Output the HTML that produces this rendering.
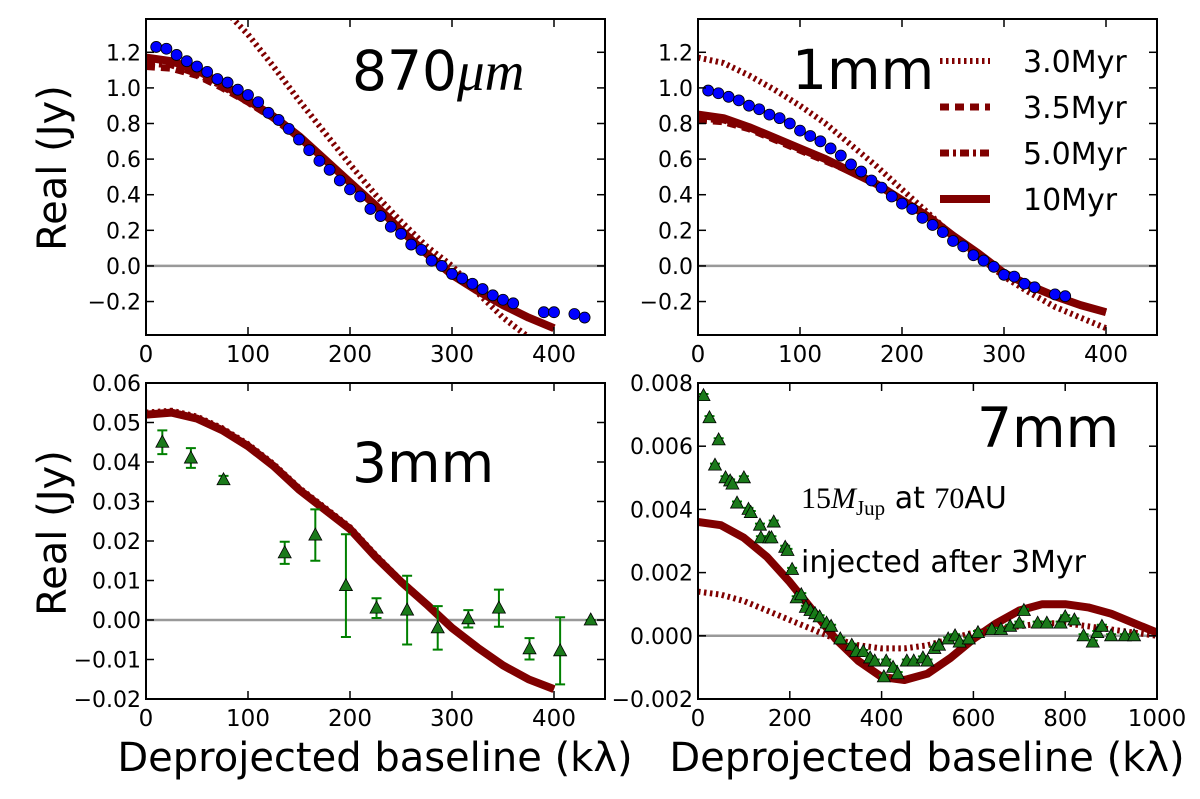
<!DOCTYPE html>
<html><head><meta charset="utf-8"><style>
html,body{margin:0;padding:0;background:#fff;}
svg{display:block;font-family:"DejaVu Sans","Liberation Sans",sans-serif;}
</style></head><body>
<svg id="fig" width="1200" height="799" viewBox="0 0 1200 799" xmlns="http://www.w3.org/2000/svg"></svg>
<script>
// ---------- data ----------
const modelX = [0,25,50,75,100,125,150,175,200,225,250,275,300,325,350,375,400];
// 870um panel
const a_m30 = [1.75,1.70,1.60,1.45,1.30,1.12,0.93,0.75,0.57,0.40,0.25,0.11,0.0,-0.15,-0.29,-0.40,-0.48];
const a_m35 = [1.12,1.11,1.07,1.00,0.92,0.83,0.72,0.60,0.47,0.34,0.20,0.07,-0.05,-0.14,-0.22,-0.29,-0.35];
const a_m50 = [1.14,1.13,1.08,1.01,0.92,0.83,0.72,0.60,0.47,0.34,0.20,0.07,-0.05,-0.14,-0.22,-0.29,-0.35];
const a_m10 = [1.17,1.15,1.10,1.02,0.93,0.84,0.73,0.60,0.47,0.34,0.20,0.07,-0.05,-0.14,-0.22,-0.29,-0.35];
const a_obsX = [10,20,30,40,50,60,70,80,90,100,110,120,130,140,150,160,170,180,190,200,210,220,230,240,250,260,270,280,290,300,310,320,330,340,350,360,390,400,420,430];
const a_obsY = [1.23,1.22,1.185,1.15,1.12,1.09,1.05,1.03,0.99,0.96,0.92,0.86,0.82,0.77,0.71,0.65,0.59,0.54,0.48,0.43,0.39,0.32,0.28,0.22,0.18,0.12,0.09,0.03,0.0,-0.045,-0.07,-0.10,-0.13,-0.165,-0.19,-0.21,-0.26,-0.26,-0.27,-0.29];
// 1mm panel
const b_m30 = [1.17,1.14,1.07,0.99,0.90,0.80,0.68,0.56,0.43,0.30,0.17,0.05,-0.06,-0.15,-0.23,-0.29,-0.35];
const b_m35 = [0.82,0.81,0.77,0.71,0.65,0.59,0.53,0.46,0.37,0.28,0.17,0.07,-0.04,-0.11,-0.17,-0.22,-0.26];
const b_m50 = [0.83,0.82,0.78,0.72,0.66,0.60,0.53,0.46,0.37,0.28,0.17,0.07,-0.04,-0.11,-0.17,-0.22,-0.26];
const b_m10 = [0.85,0.83,0.78,0.72,0.66,0.60,0.53,0.46,0.37,0.28,0.17,0.07,-0.04,-0.11,-0.17,-0.22,-0.26];
const b_obsX = [10,20,30,40,50,60,70,80,90,100,110,120,130,140,150,160,170,180,190,200,210,220,230,240,250,260,270,280,290,300,310,320,330,350,360];
const b_obsY = [0.985,0.97,0.95,0.93,0.90,0.88,0.85,0.83,0.80,0.76,0.73,0.70,0.66,0.62,0.57,0.53,0.48,0.44,0.39,0.35,0.32,0.27,0.23,0.19,0.14,0.11,0.06,0.03,-0.005,-0.05,-0.06,-0.10,-0.12,-0.16,-0.17];
// 3mm panel
const c_m30 = [0.0525,0.053,0.0515,0.0485,0.0445,0.0395,0.0335,0.0285,0.0235,0.0165,0.0100,0.0042,-0.0018,-0.0068,-0.0113,-0.0148,-0.0175];
const c_m10 = [0.052,0.0525,0.051,0.048,0.044,0.039,0.033,0.028,0.023,0.016,0.0097,0.004,-0.002,-0.007,-0.0115,-0.015,-0.0175];
const c_obsX = [16,44,76,136,166,196,226,256,286,316,346,376,406,436];
const c_obsY = [0.045,0.041,0.0355,0.017,0.0215,0.0087,0.003,0.0025,-0.002,0.0003,0.003,-0.0073,-0.0078,0.0];
const c_obsE = [0.003,0.0025,0.001,0.0028,0.0065,0.013,0.0025,0.0087,0.0055,0.0022,0.0047,0.0027,0.0085,0.0];
// 7mm panel
const d_modelX = [0,50,100,150,200,250,300,350,400,450,500,550,600,650,700,750,800,850,900,950,1000];
const d_m10 = [0.0036,0.0035,0.0031,0.0025,0.0017,0.0008,-0.0001,-0.0008,-0.0013,-0.0014,-0.0012,-0.0007,-0.0001,0.0004,0.0008,0.0010,0.0010,0.0009,0.0007,0.0004,0.0001];
const d_m30 = [0.0014,0.0013,0.0011,0.0008,0.0005,0.0002,-0.0001,-0.0003,-0.0004,-0.0004,-0.0003,-0.0001,0.0001,0.0002,0.0003,0.0004,0.0004,0.0003,0.0002,0.0001,0.0];
const d_obsX = [12,25,45,37,60,70,75,100,85,110,115,135,137,155,165,160,190,195,205,215,225,235,245,255,265,280,290,310,335,345,360,375,385,405,410,425,435,455,470,490,500,515,525,545,560,570,590,610,640,660,680,700,710,740,760,790,800,820,840,860,870,880,900,930,950];
const d_obsY = [0.0076,0.0069,0.0062,0.0054,0.005,0.0049,0.0048,0.005,0.0042,0.004,0.0039,0.0035,0.0031,0.0031,0.0036,0.0031,0.0028,0.0027,0.0021,0.0012,0.0013,0.0009,0.0008,0.0007,0.0006,0.0004,0.0003,-0.0001,-0.0003,-0.0005,-0.0005,-0.0007,-0.0008,-0.0013,-0.0008,-0.001,-0.0012,-0.0008,-0.0008,-0.0007,-0.0008,-0.0004,-0.0003,-0.0001,0.0,-0.0002,-0.0001,0.0001,0.0002,0.0002,0.0003,0.0004,0.0008,0.0004,0.0004,0.0004,0.0006,0.0005,0.0,-0.0002,0.0001,0.0003,0.0,0.0,0.0];

const xTicksA = [0,100,200,300,400];
const yTicksTop = [-0.2,0.0,0.2,0.4,0.6,0.8,1.0,1.2];
const yLabelsTop = ["\u22120.2","0.0","0.2","0.4","0.6","0.8","1.0","1.2"];
const yTicks3 = [-0.02,-0.01,0,0.01,0.02,0.03,0.04,0.05,0.06];
const yLabels3 = ["\u22120.02","\u22120.01","0.00","0.01","0.02","0.03","0.04","0.05","0.06"];
const xTicksD = [0,200,400,600,800,1000];
const yTicks7 = [-0.002,0,0.002,0.004,0.006,0.008];
const yLabels7 = ["\u22120.002","0.000","0.002","0.004","0.006","0.008"];

// ---------- rendering ----------
const NS = "http://www.w3.org/2000/svg";
const svg = document.getElementById('fig');
const RED = "#800000";
function mk(tag, attrs, parent){
  const e = document.createElementNS(NS, tag);
  for (const k in attrs) e.setAttribute(k, attrs[k]);
  (parent||svg).appendChild(e);
  return e;
}
function panel(name, L, R, T, B, x0, x1, y0, y1){
  const g = mk('g', {});
  
  
  const cp = mk('clipPath', {id: 'clip-' + name}, g);
  mk('rect', {x: L, y: T, width: R - L, height: B - T}, cp);
  const inner = mk('g', {'clip-path': 'url(#clip-' + name + ')'}, g);
  return {g, inner, L, R, T, B,
    sx: v => L + (v - x0) / (x1 - x0) * (R - L),
    sy: v => B - (v - y0) / (y1 - y0) * (B - T)};
}
function zero(p){
  const l = mk('line', {x1: p.L, x2: p.R, y1: p.sy(0), y2: p.sy(0), stroke: '#999', 'stroke-width': 2.5}, p.inner);
  
  
}
function curve(p, xs, ys, name, style){
  const d = xs.map((x, i) => (i ? 'L' : 'M') + p.sx(x).toFixed(1) + ',' + p.sy(ys[i]).toFixed(1)).join('');
  const attrs = {d: d, fill: 'none', stroke: RED, 'stroke-width': style.w, 'stroke-linejoin': 'round'};
  if (style.dash) attrs['stroke-dasharray'] = style.dash;
  const e = mk('path', attrs, p.inner);
  
  
}
function dots(p, xs, ys, name){
  const g = mk('g', {}, p.inner);
  
  
  xs.forEach((x, i) => {
    const c = mk('circle', {cx: p.sx(x), cy: p.sy(ys[i]), r: 5.5, fill: '#0000ff', stroke: '#000', 'stroke-width': 0.8}, g);
    
    
  });
}
function tris(p, xs, ys, es, name){
  const g = mk('g', {}, p.inner);
  
  
  xs.forEach((x, i) => {
    const cx = p.sx(x), cy = p.sy(ys[i]);
    const e = es ? es[i] : 0.00005;
    const y1 = p.sy(ys[i] + e), y2 = p.sy(ys[i] - e);
    const eb = mk('path', {d: `M${cx},${y1}L${cx},${y2}M${cx-5},${y1}L${cx+5},${y1}M${cx-5},${y2}L${cx+5},${y2}`, stroke: '#008000', 'stroke-width': 2, fill: 'none'}, g);
    
    
    const t = mk('path', {d: `M${cx},${cy-7}L${cx+6.5},${cy+5}L${cx-6.5},${cy+5}Z`, fill: '#1a7a1a', stroke: '#000', 'stroke-width': 0.8}, g);
    
    
  });
}
function axes(p, xt, xl, yt, yl, showXLabels){
  const f = mk('rect', {x: p.L, y: p.T, width: p.R - p.L, height: p.B - p.T, fill: 'none', stroke: '#000', 'stroke-width': 2}, p.g);
  
  
  xt.forEach((v, i) => {
    const x = p.sx(v);
    mk('line', {x1: x, x2: x, y1: p.B, y2: p.B - 8, stroke: '#000', 'stroke-width': 1.5}, p.g);
    mk('line', {x1: x, x2: x, y1: p.T, y2: p.T + 8, stroke: '#000', 'stroke-width': 1.5}, p.g);
    if (showXLabels){
      const t = mk('text', {x: x, y: p.B + 27, 'font-size': 23, 'text-anchor': 'middle'}, p.g);
      t.textContent = xl[i];
      
      
    }
  });
  yt.forEach((v, i) => {
    const y = p.sy(v);
    mk('line', {x1: p.L, x2: p.L + 8, y1: y, y2: y, stroke: '#000', 'stroke-width': 1.5}, p.g);
    mk('line', {x1: p.R, x2: p.R - 8, y1: y, y2: y, stroke: '#000', 'stroke-width': 1.5}, p.g);
    const t = mk('text', {x: p.L - 5, y: y + 8, 'font-size': 22, 'text-anchor': 'end'}, p.g);
    t.textContent = yl[i];
    
    
  });
}
function label(txt, x, y, size, name, anchor, rot){
  const a = {x: x, y: y, 'font-size': size, 'text-anchor': anchor || 'start'};
  if (rot) a.transform = `rotate(-90 ${x} ${y})`;
  const t = mk('text', a);
  t.textContent = txt;
  
  
  return t;
}
const S30 = {w: 6, dash: '2.5 3.5'}, S35 = {w: 7, dash: '9 6'}, S50 = {w: 7, dash: '9 4 3 4'}, S10 = {w: 8};

// Panel A: 870um
const A = panel('panel-870um', 146, 605, 19, 335, 0, 450, -0.388, 1.387);
zero(A);
curve(A, modelX, a_m30, 'model-3.0myr', S30);
curve(A, modelX, a_m35, 'model-3.5myr', S35);
curve(A, modelX, a_m50, 'model-5.0myr', S50);
curve(A, modelX, a_m10, 'model-10myr', S10);
dots(A, a_obsX, a_obsY, 'observed-870um');
axes(A, xTicksA, xTicksA.map(String), yTicksTop, yLabelsTop, true);

// Panel B: 1mm
const B = panel('panel-1mm', 698, 1157, 19, 335, 0, 450, -0.388, 1.387);
zero(B);
curve(B, modelX, b_m30, 'model-3.0myr', S30);
curve(B, modelX, b_m35, 'model-3.5myr', S35);
curve(B, modelX, b_m50, 'model-5.0myr', S50);
curve(B, modelX, b_m10, 'model-10myr', S10);
dots(B, b_obsX, b_obsY, 'observed-1mm');
axes(B, xTicksA, xTicksA.map(String), yTicksTop, yLabelsTop, true);

// Panel C: 3mm
const C = panel('panel-3mm', 146, 605, 383, 699, 0, 450, -0.02, 0.06);
zero(C);
curve(C, modelX, c_m30, 'model-3.0myr', S30);
curve(C, modelX, c_m10, 'model-10myr', S10);
tris(C, c_obsX, c_obsY, c_obsE, 'observed-3mm');
axes(C, xTicksA, xTicksA.map(String), yTicks3, yLabels3, true);

// Panel D: 7mm
const D = panel('panel-7mm', 698, 1157, 383, 699, 0, 1000, -0.002, 0.008);
zero(D);
curve(D, d_modelX, d_m30, 'model-3.0myr', S30);
curve(D, d_modelX, d_m10, 'model-10myr', S10);
tris(D, d_obsX, d_obsY, null, 'observed-7mm');
axes(D, xTicksD, xTicksD.map(String), yTicks7, yLabels7, true);

// Axis titles
label('Real (Jy)', 66, 168, 40, 'y-axis-title-top', 'middle', true);
label('Real (Jy)', 66, 533, 40, 'y-axis-title-bottom', 'middle', true);
label('Deprojected baseline (k\u03bb)', 375, 771, 40, 'x-axis-title-left', 'middle');
label('Deprojected baseline (k\u03bb)', 927, 771, 40, 'x-axis-title-right', 'middle');

// Panel titles
const t1 = label('870', 352, 90, 55, 'title-870um');
const ts = mk('tspan', {'font-style': 'italic', 'font-family': '"Liberation Serif",serif'}, t1);
ts.textContent = '\u03bcm';
label('1mm', 792, 89, 55, 'title-1mm');
label('3mm', 352, 482, 55, 'title-3mm');
label('7mm', 977, 447, 55, 'title-7mm');
const ann = label('', 801, 508, 30, 'annotation-planet');
const a1 = mk('tspan', {'font-family': '"Liberation Serif",serif'}, ann); a1.textContent = '15';
const a2 = mk('tspan', {'font-family': '"Liberation Serif",serif', 'font-style': 'italic'}, ann); a2.textContent = 'M';
const a3 = mk('tspan', {'font-family': '"Liberation Serif",serif', 'font-size': 21, dy: 7}, ann); a3.textContent = 'Jup';
const a4 = mk('tspan', {dy: -7}, ann); a4.textContent = ' at ';
const a5 = mk('tspan', {'font-family': '"Liberation Serif",serif'}, ann); a5.textContent = '70';
const a6 = mk('tspan', {}, ann); a6.textContent = 'AU';
label('injected after 3Myr', 801, 572, 30, 'annotation-injected');

// Legend
const legend = mk('g', {});


const legNames = ['3.0Myr', '3.5Myr', '5.0Myr', '10Myr'];
const legStyles = [S30, S35, S50, S10];
legNames.forEach((n, i) => {
  const y = 61 + i * 46;
  const a = {x1: 940, x2: 990, y1: y, y2: y, stroke: RED, 'stroke-width': legStyles[i].w};
  if (legStyles[i].dash) a['stroke-dasharray'] = legStyles[i].dash;
  const l = mk('line', a, legend);
  
  
  const t = mk('text', {x: 1023, y: y + 11, 'font-size': 30}, legend);
  t.textContent = n;
  
  
});
</script>
</body></html>
